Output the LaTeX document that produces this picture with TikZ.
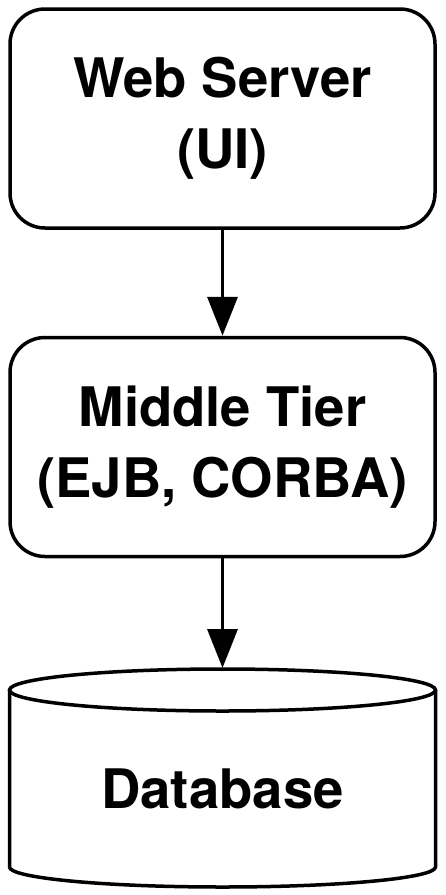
\documentclass[tikz,border=0pt]{standalone}
\usepackage{fontspec}
\setmainfont{TeX Gyre Heros}
\usetikzlibrary{arrows.meta}

\tikzset{
  tierbox/.style={draw, line width=3.5pt, rounded corners=35pt, minimum width=425pt,
    minimum height=219pt, inner sep=0pt, align=center,
    font=\fontsize{54.5}{71}\selectfont\bfseries},
  flow/.style={line width=3.5pt, -{Triangle[width=30pt,length=39pt]}}
}

\begin{document}
\begin{tikzpicture}[x=1pt,y=-1pt]
\useasboundingbox (0,0) rectangle (445,895);
\node[tierbox] (web) at (222.5,118.5) {Web Server\\(UI)};
\node[tierbox] (mid) at (222.5,447) {Middle Tier\\(EJB, CORBA)};
% database cylinder
\draw[line width=3.5pt] (222.5,690) ellipse (213 and 21);
\draw[line width=3.5pt] (9.5,690) -- (9.5,867)
  arc[start angle=180, end angle=0, x radius=213, y radius=20] -- (435.5,690);
\coordinate (dbtop) at (222.5,668);
\node[font=\fontsize{54.5}{71}\selectfont\bfseries] (db) at (222.5,789) {Database};
\draw[flow] (web.south) -- (mid.north);
\draw[flow] (mid.south) -- (dbtop);
\end{tikzpicture}
\end{document}
